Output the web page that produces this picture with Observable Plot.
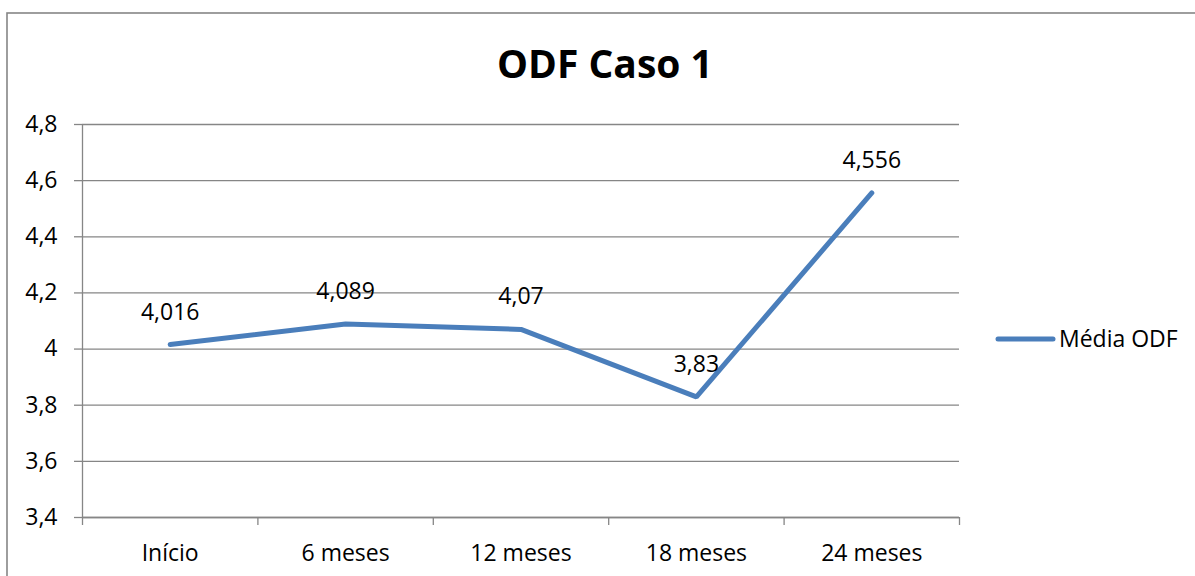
<!DOCTYPE html>
<html><head><meta charset="utf-8">
<script src="https://cdn.jsdelivr.net/npm/d3@7"></script>
<script src="https://cdn.jsdelivr.net/npm/@observablehq/plot@0.6"></script>
<style>body{margin:0;background:#fff;overflow:hidden}</style>
</head><body><div id="chart"></div>
<script>
const title = "ODF Caso 1";
const seriesName = "Média ODF";
const categories = ["Início", "6 meses", "12 meses", "18 meses", "24 meses"];
const values = [4.016, 4.089, 4.07, 3.83, 4.556];
const valueLabels = ["4,016", "4,089", "4,07", "3,83", "4,556"];
const yTicks = [3.4, 3.6, 3.8, 4, 4.2, 4.4, 4.6, 4.8];
const yTickLabels = ["3,4", "3,6", "3,8", "4", "4,2", "4,4", "4,6", "4,8"];

const data = categories.map((c, i) => ({pos: i + 0.5, cat: c, value: values[i], label: valueLabels[i]}));
const boundaries = d3.range(categories.length + 1);
const centers = categories.map((c, i) => i + 0.5);

const gridColor = "#868686";
const lineColor = "#4A7EBB";
const font = "'Open Sans', sans-serif";

const svg = Plot.plot({
  width: 1195, height: 576,
  marginLeft: 82, marginRight: 236, marginTop: 124, marginBottom: 59,
  style: {fontFamily: font, fontSize: "23px", color: "#000", background: "#fff", overflow: "visible"},
  x: {type: "linear", domain: [0, categories.length], label: null},
  y: {domain: [3.4, 4.8], label: null},
  marks: [
    Plot.gridY(yTicks, {stroke: gridColor, strokeOpacity: 1, strokeWidth: 1.3}),
    Plot.axisY(yTicks, {tickSize: 8, tickPadding: 17, stroke: gridColor, strokeOpacity: 1, strokeWidth: 1.3, fill: "#000", label: null,
      tickFormat: d => yTickLabels[yTicks.indexOf(d)]}),
    Plot.ruleX([0], {stroke: gridColor, strokeWidth: 1.3}),
    Plot.ruleY([3.4], {stroke: gridColor, strokeWidth: 1.3}),
    Plot.axisX(boundaries, {tickSize: 8, stroke: gridColor, strokeOpacity: 1, strokeWidth: 1.3, label: null, tickFormat: () => ""}),
    Plot.axisX(centers, {tickSize: 0, tickPadding: 27, fill: "#000", label: null,
      tickFormat: d => categories[centers.indexOf(d)]}),
    Plot.line(data, {x: "pos", y: "value", stroke: lineColor, strokeWidth: 5, strokeLinejoin: "miter", strokeLinecap: "round"}),
    Plot.text(data, {x: "pos", y: "value", text: "label", dy: -25, lineAnchor: "bottom", fill: "#000"})
  ]
});

const s = d3.select(svg);
s.append("rect").attr("x", 7).attr("y", 13).attr("width", 1400).attr("height", 800)
  .attr("fill", "none").attr("stroke", gridColor).attr("stroke-width", 1.6);
s.append("text").attr("x", 605).attr("y", 78).attr("text-anchor", "middle")
  .attr("font-family", font).attr("font-weight", "bold").attr("font-size", 39).attr("fill", "#000").text(title);
const lg = s.append("g");
lg.append("line").attr("x1", 998).attr("x2", 1053).attr("y1", 339).attr("y2", 339)
  .attr("stroke", lineColor).attr("stroke-width", 5).attr("stroke-linecap", "round");
lg.append("text").attr("x", 1059).attr("y", 347).attr("text-anchor", "start")
  .attr("font-family", font).attr("font-size", 23).attr("fill", "#000").text(seriesName);

document.getElementById("chart").appendChild(svg);
</script>
</body></html>
